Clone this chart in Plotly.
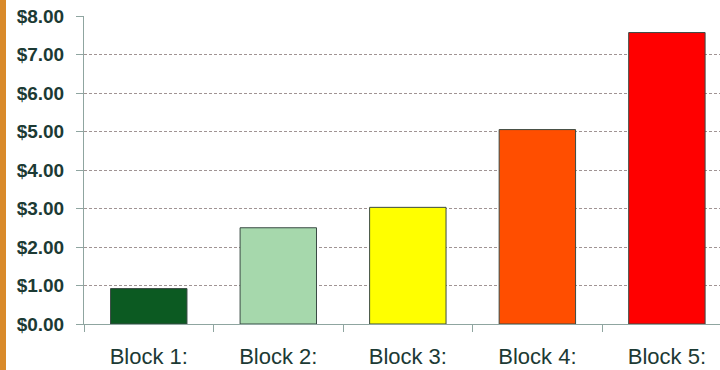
import plotly.graph_objects as go

categories = ["Block 1:", "Block 2:", "Block 3:", "Block 4:", "Block 5:"]
values = [0.92, 2.50, 3.03, 5.05, 7.57]
colors = ["#0c5a22", "#a6d8ac", "#ffff00", "#ff4e00", "#ff0000"]
y_ticks = [0, 1, 2, 3, 4, 5, 6, 7, 8]
y_labels = ["$%.2f" % v for v in y_ticks]

fig = go.Figure()
fig.add_trace(go.Bar(
    x=categories, y=values,
    marker=dict(color=colors, line=dict(color="#3a4a44", width=1)),
    width=0.59,
))

fig.update_layout(
    width=720, height=370,
    margin=dict(l=84, r=0, t=16, b=46),
    paper_bgcolor="white", plot_bgcolor="white",
    showlegend=False,
    shapes=[dict(type="rect", xref="paper", yref="paper",
                 x0=-84/636, x1=-78/636, y0=-46/308, y1=1+16/308,
                 fillcolor="#d98a2a", line=dict(width=0), layer="below")],
)
fig.update_xaxes(
    range=[-0.5, 4.41],
    showline=True, linecolor="#8fa5a0", linewidth=1,
    ticks="outside", tickson="boundaries", ticklen=7, tickcolor="#8fa5a0",
    tickfont=dict(family="Arial, Liberation Sans", size=22, color="#1c3a34"),
    ticklabelstandoff=13,
    showgrid=False,
)
fig.update_yaxes(
    range=[0, 8],
    tickvals=y_ticks, ticktext=y_labels,
    showline=True, linecolor="#8fa5a0", linewidth=1,
    ticks="outside", ticklen=7, tickcolor="#8fa5a0",
    tickfont=dict(family="Arial, Liberation Sans", size=19, color="#1c3a34", weight="bold"),
    ticklabelstandoff=8,
    showgrid=True, gridcolor="#a09494", griddash="3px,2px", gridwidth=1,
    zeroline=False,
)

fig.write_html("out.html")
